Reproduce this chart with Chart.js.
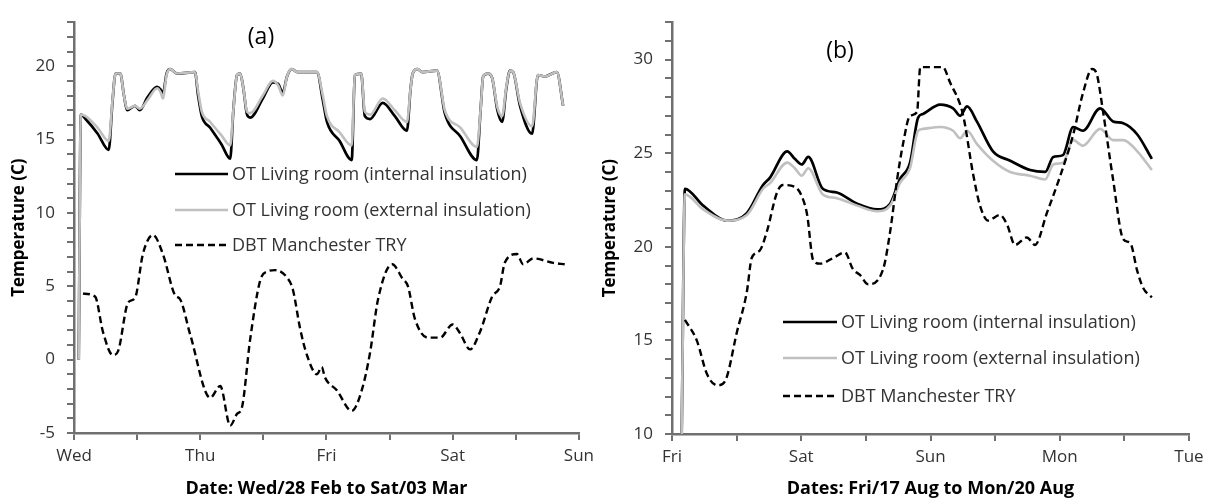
<!DOCTYPE html>
<html>
<head>
<meta charset="utf-8">
<script src="https://cdn.jsdelivr.net/npm/chart.js@4/dist/chart.umd.min.js"></script>
<style>
  html, body { margin: 0; padding: 0; background: #fff; }
  #wrap { position: relative; width: 1210px; height: 504px; }
  .panel { position: absolute; top: 0; height: 504px; }
  #panelA { left: 0; width: 600px; }
  #panelB { left: 600px; width: 610px; }
</style>
</head>
<body>
<div id="wrap">
  <div class="panel" id="panelA"><canvas id="chartA"></canvas></div>
  <div class="panel" id="panelB"><canvas id="chartB"></canvas></div>
</div>
<script>
// panel (a): Wed 28 Feb to Sat 03 Mar, hours from Wed 00:00
const aDays = ['Wed', 'Thu', 'Fri', 'Sat', 'Sun']
const aHours = [0.9, 1.3, 2.2, 4.5, 6.6, 7.3, 7.9, 8.8, 9.5, 10.1, 11.6, 12.5, 14.0, 15.8, 16.5, 16.9,
  17.6, 18.3, 19.6, 23.0, 23.6, 24.3, 25.9, 28.0, 29.7, 30.3, 31.0, 31.6, 32.2, 32.9, 33.5, 35.9,
  37.8, 38.8, 39.7, 40.5, 41.4, 42.5, 46.2, 47.3, 48.1, 50.5, 52.8, 53.4, 54.6, 55.3, 56.3, 58.7,
  61.0, 63.3, 64.0, 64.4, 65.3, 66.2, 69.0, 70.5, 73.5, 76.6, 77.3, 77.8, 78.7, 79.5, 80.5, 81.4,
  82.2, 82.9, 83.5, 84.8, 87.1, 88.2, 89.5, 91.8, 93.0]
const aInternal = [0, 16.7, 16.4, 15.4, 14.3, 17.5, 19.5, 19.5, 18.0, 17.0, 17.3, 17.0, 17.9, 18.6, 18.4, 18.1,
  19.5, 19.8, 19.5, 19.6, 18.0, 16.6, 15.8, 14.7, 13.7, 17.0, 19.4, 19.5, 18.5, 16.7, 16.5, 17.8,
  18.9, 18.8, 18.2, 19.3, 19.8, 19.6, 19.6, 17.7, 16.2, 14.9, 13.6, 19.4, 19.5, 16.6, 16.4, 17.5,
  16.6, 15.6, 18.5, 19.5, 19.8, 19.6, 19.7, 16.8, 15.2, 13.6, 17.0, 19.3, 19.5, 19.2, 17.0, 16.2,
  18.5, 19.7, 19.6, 17.3, 15.4, 19.4, 19.3, 19.6, 17.3]
const aExternal = [0, 16.7, 16.6, 15.8, 14.9, 17.6, 19.5, 19.5, 18.0, 17.1, 17.3, 17.1, 17.7, 18.5, 18.2, 17.8,
  19.4, 19.8, 19.5, 19.6, 18.3, 16.9, 16.2, 15.3, 14.6, 17.0, 19.4, 19.5, 18.5, 16.9, 16.8, 18.0,
  19.0, 18.7, 18.0, 19.3, 19.8, 19.6, 19.6, 18.0, 16.6, 15.5, 14.6, 19.4, 19.5, 16.9, 16.7, 17.8,
  17.0, 16.2, 18.5, 19.5, 19.8, 19.6, 19.7, 17.0, 15.8, 14.5, 17.0, 19.3, 19.5, 19.2, 17.2, 16.6,
  18.6, 19.7, 19.6, 17.5, 15.9, 19.4, 19.3, 19.6, 17.3]
const aDbtHours = [1.7, 4.0, 5.5, 7.4, 8.4, 10.3, 11.6, 13.1, 15.0, 16.9, 19.2, 20.2, 22.1, 25.9, 27.8, 29.7,
  31.0, 31.9, 33.5, 35.4, 36.7, 38.2, 40.5, 41.6, 43.0, 44.3, 46.2, 47.1, 47.7, 50.0, 52.8, 54.7,
  56.3, 57.8, 60.5, 62.5, 63.5, 64.8, 67.3, 69.6, 72.0, 73.4, 75.3, 77.2, 79.5, 81.0, 81.9, 84.2,
  85.4, 87.3, 91.1, 93.3]
const aDbt = [4.5, 4.3, 1.9, 0.3, 0.6, 3.9, 4.2, 7.2, 8.5, 7.2, 4.4, 4.1, 1.7, -2.6, -1.8, -4.5,
  -3.7, -3.3, 1.4, 5.4, 6.0, 6.1, 5.6, 4.8, 2.1, 0.3, -1.0, -0.5, -1.2, -2.1, -3.5, -2.1,
  0.5, 4.1, 6.5, 5.5, 5.0, 2.8, 1.5, 1.5, 2.4, 1.8, 0.7, 1.9, 4.3, 5.0, 6.6, 7.2,
  6.5, 6.9, 6.6, 6.5]

// panel (b): Fri 17 Aug to Mon 20 Aug
const bDays = ['Fri', 'Sat', 'Sun', 'Mon', 'Tue']
const bHours = [1.8, 2.4, 5.8, 10.2, 13.9, 16.9, 18.2, 21.4, 22.8, 24.1, 25.3, 28.0, 30.6, 34.4, 38.1, 40.5,
  42.3, 44.2, 45.7, 46.6, 49.8, 52.2, 53.5, 54.8, 56.6, 59.6, 62.8, 66.5, 69.3, 70.8, 72.6, 74.5,
  76.3, 79.5, 81.9, 83.8, 86.4, 89.1]
const bInternal = [10, 23.1, 22.2, 21.4, 21.8, 23.3, 23.7, 25.1, 24.7, 24.4, 24.8, 23.1, 22.9, 22.3, 22.0, 22.3,
  23.6, 24.5, 26.9, 27.1, 27.6, 27.4, 27.0, 27.5, 26.7, 25.1, 24.6, 24.1, 24.0, 24.8, 24.9, 26.4,
  26.2, 27.4, 26.7, 26.6, 26.0, 24.7]
const bExternal = [10, 22.8, 22.0, 21.4, 21.7, 23.1, 23.4, 24.5, 24.2, 23.8, 24.2, 22.8, 22.6, 22.2, 21.9, 22.2,
  23.4, 24.2, 26.2, 26.3, 26.4, 26.2, 25.8, 26.2, 25.5, 24.6, 24.0, 23.8, 23.6, 24.4, 24.5, 25.7,
  25.4, 26.3, 25.7, 25.7, 25.1, 24.1]
const bDbtHours = [2.4, 4.6, 6.5, 8.4, 9.8, 12.1, 13.9, 14.8, 16.3, 17.6, 19.5, 20.6, 22.8, 24.1, 25.1, 26.2,
  27.5, 29.9, 32.1, 33.6, 34.9, 36.4, 39.2, 40.5, 41.8, 42.9, 44.2, 45.5, 46.1, 46.6, 50.3, 51.6,
  54.0, 55.9, 57.2, 58.7, 60.9, 62.2, 63.7, 65.9, 67.4, 69.6, 72.1, 74.5, 76.3, 78.0, 78.9, 80.0,
  81.9, 83.8, 85.1, 86.4, 87.5, 89.1]
const bDbt = [16.1, 15.0, 13.2, 12.6, 12.8, 15.5, 17.6, 19.4, 19.8, 20.8, 22.9, 23.3, 23.2, 22.7, 21.7, 19.3,
  19.1, 19.4, 19.7, 18.8, 18.5, 18.0, 18.8, 20.8, 23.6, 25.5, 27.0, 27.2, 29.6, 29.6, 29.6, 28.8,
  27.1, 23.9, 22.2, 21.4, 21.7, 21.2, 20.1, 20.5, 20.1, 21.8, 23.8, 26.0, 28.2, 29.5, 29.2, 27.3,
  23.6, 20.4, 20.2, 18.7, 17.8, 17.3]

const seriesLabels = ['OT Living room (internal insulation)', 'OT Living room (external insulation)', 'DBT Manchester TRY']

const FONT = '"Open Sans", Lato, sans-serif'
const axisColor = '#707070'
const textColor = '#333333'

function pts(xs, ys) {
    return xs.map((x, i) => ({ x: x, y: ys[i] }))
}

// legend drawn inside the plot + the (a)/(b) tag
const insideLegend = {
    id: 'insideLegend',
    afterDatasetsDraw(chart, args, opts) {
        const ctx = chart.ctx
        ctx.save()
        ctx.font = '18px ' + FONT
        ctx.textBaseline = 'middle'
        chart.data.datasets.forEach((ds, i) => {
            const y = opts.rows[i]
            ctx.beginPath()
            ctx.strokeStyle = ds.borderColor
            ctx.lineWidth = ds.borderWidth
            ctx.setLineDash(ds.borderDash || [])
            ctx.moveTo(opts.x1, y)
            ctx.lineTo(opts.x2, y)
            ctx.stroke()
            ctx.setLineDash([])
            ctx.fillStyle = textColor
            ctx.fillText(ds.label, opts.x2 + 4, y + 1)
        })
        ctx.font = '23px ' + FONT
        ctx.fillStyle = '#000'
        ctx.textAlign = 'center'
        ctx.fillText(opts.tag, opts.tagX, opts.tagY)
        ctx.restore()
    }
}

function renderChart(canvas, cfg) {
    const datasets = [
        { label: seriesLabels[0], data: pts(cfg.hours, cfg.internal), borderColor: '#000000', borderWidth: 2.7, order: 2 },
        { label: seriesLabels[1], data: pts(cfg.hours, cfg.external), borderColor: '#c0c0c0', borderWidth: 2.6, order: 1 },
        { label: seriesLabels[2], data: pts(cfg.dbtHours, cfg.dbt), borderColor: '#000000', borderWidth: 2.4, borderDash: [7, 4], order: 0 }
    ].map(d => Object.assign(d, { pointRadius: 0, fill: false, cubicInterpolationMode: 'monotone' }))

    return new Chart(canvas, {
        type: 'line',
        data: { datasets: datasets },
        plugins: [insideLegend],
        options: {
            responsive: true,
            maintainAspectRatio: false,
            animation: false,
            layout: { padding: { top: cfg.padTop, right: cfg.padRight, left: 0, bottom: 0 } },
            plugins: {
                legend: { display: false },
                tooltip: { enabled: false },
                insideLegend: cfg.legend
            },
            scales: {
                x: {
                    type: 'linear',
                    min: 0, max: 96,
                    afterFit(scale) { scale.height = cfg.xHeight },
                    border: { display: true, color: axisColor, width: 2.5 },
                    grid: { drawOnChartArea: false, drawTicks: true, tickLength: 7, color: axisColor, lineWidth: 2 },
                    ticks: {
                        stepSize: 12, autoSkip: false, maxRotation: 0, padding: 6,
                        color: textColor, font: { family: FONT, size: 17 },
                        callback: v => (v % 24 === 0 ? cfg.days[v / 24] : '')
                    },
                    title: {
                        display: true, text: cfg.xTitle, color: '#000',
                        font: { family: FONT, size: 18, weight: 'bold' },
                        padding: { top: 0, bottom: 4 }
                    }
                },
                y: {
                    min: cfg.yMin, max: cfg.yMax,
                    afterFit(scale) { scale.width = cfg.yWidth },
                    border: { display: true, color: axisColor, width: 2.5 },
                    grid: { drawOnChartArea: false, drawTicks: true, tickLength: 7, color: axisColor, lineWidth: 2 },
                    ticks: {
                        stepSize: 1, autoSkip: false, padding: 12,
                        color: textColor, font: { family: FONT, size: 17 },
                        callback: v => (v % 5 === 0 ? v : '')
                    },
                    title: {
                        display: true, text: 'Temperature (C)', color: '#000',
                        font: { family: FONT, size: 17, weight: 'bold' },
                        padding: { top: cfg.yTitlePad, bottom: 0 }
                    }
                }
            }
        }
    })
}

renderChart(document.getElementById('chartA'), {
    hours: aHours, internal: aInternal, external: aExternal, dbtHours: aDbtHours, dbt: aDbt,
    days: aDays, xTitle: 'Date: Wed/28 Feb to Sat/03 Mar',
    yMin: -5, yMax: 23, yWidth: 74, xHeight: 71, padTop: 13, padRight: 21, yTitlePad: 9,
    legend: { x1: 175, x2: 228, rows: [174, 210, 245], tag: '(a)', tagX: 261, tagY: 37 }
})

renderChart(document.getElementById('chartB'), {
    hours: bHours, internal: bInternal, external: bExternal, dbtHours: bDbtHours, dbt: bDbt,
    days: bDays, xTitle: 'Dates: Fri/17 Aug to Mon/20 Aug',
    yMin: 10, yMax: 32, yWidth: 72, xHeight: 70, padTop: 17, padRight: 21, yTitlePad: 0,
    legend: { x1: 183, x2: 237, rows: [322, 358, 396], tag: '(b)', tagX: 240, tagY: 51 }
})
</script>
</body>
</html>
